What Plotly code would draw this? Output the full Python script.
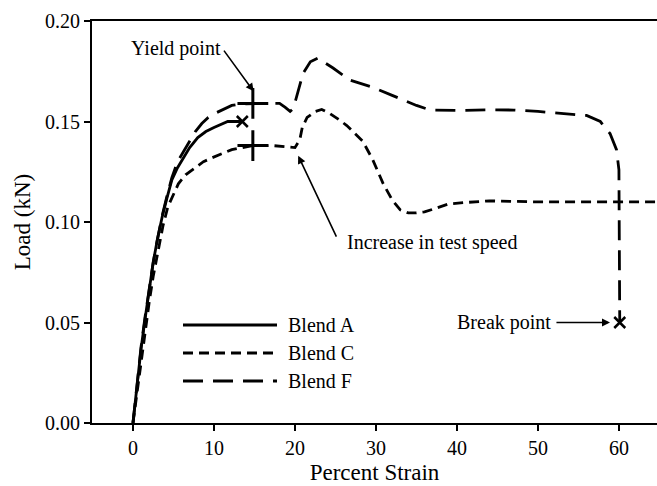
import plotly.graph_objects as go

# ---- data ----
strain_A = [0, 0.5, 1.0, 1.5, 2.0, 2.5, 3.0, 3.6, 4.2, 4.8, 5.5, 6.2, 7.0, 8.0, 9.0, 10.0, 11.0, 11.7, 12.5, 13.5]
load_A = [0, 0.019, 0.037, 0.052, 0.066, 0.080, 0.091, 0.1025, 0.112, 0.121, 0.127, 0.132, 0.137, 0.142,
          0.145, 0.147, 0.149, 0.150, 0.150, 0.150]

strain_C = [0, 0.5, 1.0, 1.5, 2.0, 2.5, 3.1, 3.7, 4.3, 5.0, 5.6, 6.5, 7.7, 8.7, 9.8, 11.0, 12.2, 13.5, 14.8,
            16.0, 17.3, 18.7, 20.0, 20.6, 20.9, 21.5, 22.5, 23.3, 24.3, 25.4, 26.4, 27.4, 28.4, 29.6, 30.9,
            32.0, 33.0, 34.0, 35.0, 36.0, 37.5, 39.0, 41.0, 44.0, 50.0, 55.0, 60.0, 65.0]
load_C = [0, 0.015, 0.031, 0.046, 0.060, 0.073, 0.086, 0.098, 0.1075, 0.114, 0.119, 0.1235, 0.127, 0.130,
          0.132, 0.134, 0.136, 0.137, 0.138, 0.138, 0.138, 0.1375, 0.137, 0.141, 0.147, 0.152, 0.155, 0.156,
          0.154, 0.151, 0.148, 0.144, 0.140, 0.131, 0.119, 0.111, 0.106, 0.1045, 0.1045, 0.105, 0.107, 0.109,
          0.1097, 0.1105, 0.110, 0.110, 0.110, 0.110]

strain_F = [0, 0.5, 1.0, 1.5, 2.0, 2.5, 3.0, 3.6, 4.2, 4.8, 5.5, 6.2, 7.0, 7.7, 8.5, 9.3, 10.1, 11.2, 12.2,
            13.5, 14.8, 16.3, 17.3, 18.1, 18.8, 19.4, 19.8, 20.4, 21.0, 21.9, 22.8, 23.5, 24.7, 26.8, 29.6,
            32.0, 35.0, 36.7, 40.0, 44.0, 47.0, 50.0, 53.6, 56.0, 57.7, 58.9, 59.7, 60.0, 60.1]
load_F = [0, 0.020, 0.038, 0.053, 0.067, 0.080, 0.091, 0.103, 0.113, 0.122, 0.130, 0.135, 0.140, 0.145,
          0.149, 0.152, 0.154, 0.156, 0.158, 0.1588, 0.159, 0.159, 0.159, 0.159, 0.157, 0.155, 0.1565, 0.166,
          0.174, 0.1797, 0.1815, 0.1797, 0.1766, 0.1706, 0.167, 0.163, 0.158, 0.1557, 0.1555, 0.1558, 0.1557,
          0.155, 0.154, 0.153, 0.150, 0.144, 0.136, 0.126, 0.050]

yield_strain = [14.8, 14.8]
yield_load = [0.159, 0.138]
break_strain = [13.5, 60.1]
break_load = [0.150, 0.050]

series_names = ["Blend A", "Blend C", "Blend F"]
x_ticks = [0, 10, 20, 30, 40, 50, 60]
y_ticks = [0.00, 0.05, 0.10, 0.15, 0.20]

FONT = "Liberation Serif"
DASH_C = "10px,6px"
DASH_F = "20px,10px"

fig = go.Figure()
fig.add_trace(go.Scatter(x=strain_A, y=load_A, mode="lines", line=dict(color="black", width=2.8),
                         name=series_names[0], showlegend=False))
fig.add_trace(go.Scatter(x=strain_C, y=load_C, mode="lines", line=dict(color="black", width=2.8, dash=DASH_C),
                         name=series_names[1], showlegend=False))
fig.add_trace(go.Scatter(x=strain_F, y=load_F, mode="lines", line=dict(color="black", width=2.8, dash=DASH_F),
                         name=series_names[2], showlegend=False))
fig.add_trace(go.Scatter(x=yield_strain, y=yield_load, mode="markers",
                         marker=dict(symbol="cross-thin", size=22, line=dict(color="black", width=3)),
                         showlegend=False))
fig.add_trace(go.Scatter(x=break_strain, y=break_load, mode="markers",
                         marker=dict(symbol="x-thin", size=11, line=dict(color="black", width=2.5)),
                         showlegend=False))

# manual legend (paper coordinates)
L, B, W, H = 92, 423, 565, 402
def px2paper(px, py):
    return (px - L) / W, (B - py) / H

legend_rows = [(325, None), (353, DASH_C), (381, DASH_F)]
for name, (py, dash) in zip(series_names, legend_rows):
    x0, y0 = px2paper(183, py)
    x1, _ = px2paper(277, py)
    fig.add_shape(type="line", xref="paper", yref="paper", x0=x0, x1=x1, y0=y0, y1=y0,
                  line=dict(color="black", width=2.8, dash=dash if dash else "solid"))
    tx, ty = px2paper(286, py)
    fig.add_annotation(xref="paper", yref="paper", x=tx, y=ty, text=name, showarrow=False,
                       xanchor="left", yanchor="middle", font=dict(family=FONT, size=20, color="black"))

ann_font = dict(family=FONT, size=20, color="black")
# Yield point
fig.add_annotation(x=11.1, y=0.1865, text="Yield point", showarrow=False, xanchor="right", yanchor="middle",
                   font=ann_font)
fig.add_annotation(x=14.9, y=0.165, ax=11.1, ay=0.186, axref="x", ayref="y", text="", showarrow=True,
                   arrowhead=2, arrowsize=1, arrowwidth=1.6, arrowcolor="black")
# Increase in test speed
fig.add_annotation(x=26.2, y=0.090, text="Increase in test speed", showarrow=False, xanchor="left",
                   yanchor="middle", font=ann_font)
fig.add_annotation(x=20.4, y=0.133, ax=25.2, ay=0.092, axref="x", ayref="y", text="", showarrow=True,
                   arrowhead=2, arrowsize=1, arrowwidth=1.6, arrowcolor="black")
# Break point
fig.add_annotation(x=51.8, y=0.050, text="Break point", showarrow=False, xanchor="right", yanchor="middle",
                   font=ann_font)
fig.add_annotation(x=58.9, y=0.050, ax=52.1, ay=0.050, axref="x", ayref="y", text="", showarrow=True,
                   arrowhead=2, arrowsize=1, arrowwidth=1.6, arrowcolor="black")

fig.update_layout(
    width=657, height=486,
    margin=dict(l=92, r=0, t=21, b=63),
    paper_bgcolor="white", plot_bgcolor="white",
    font=dict(family=FONT, size=20, color="black"),
    xaxis=dict(range=[-5.06, 64.7], tickvals=x_ticks, ticks="outside", ticklen=6, tickwidth=2,
               tickcolor="black", showline=True, linecolor="black", linewidth=2, mirror=True,
               showgrid=False, zeroline=False,
               title=dict(text="Percent Strain", font=dict(family=FONT, size=23), standoff=6)),
    yaxis=dict(range=[0, 0.2], tickvals=y_ticks, tickformat=".2f", ticks="outside", ticklen=6, tickwidth=2,
               tickcolor="black", showline=True, linecolor="black", linewidth=2,
               showgrid=False, zeroline=False,
               title=dict(text="Load (kN)", font=dict(family=FONT, size=23), standoff=8)),
)

fig.write_html("out.html")
